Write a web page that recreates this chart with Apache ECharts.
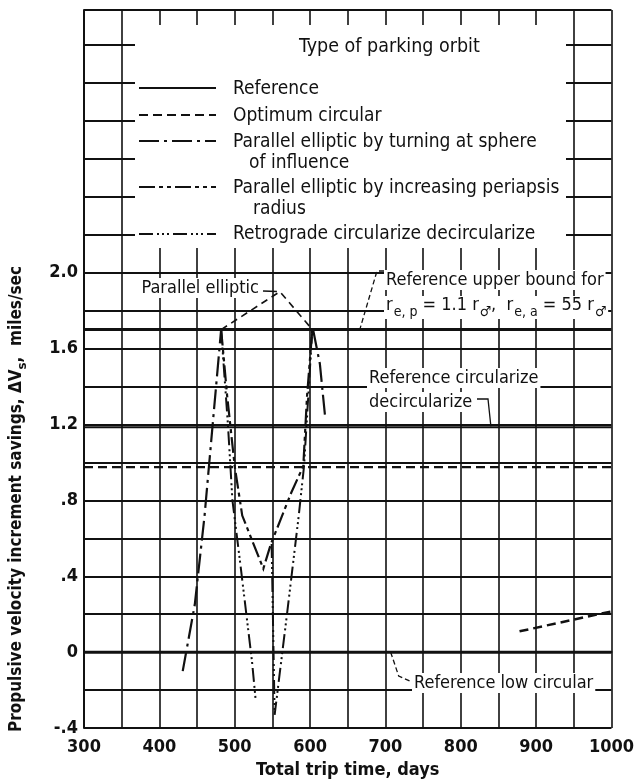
<!DOCTYPE html>
<html>
<head>
<meta charset="utf-8">
<script src="https://cdn.jsdelivr.net/npm/echarts@6/dist/echarts.min.js"></script>
<style>
  html, body { margin: 0; padding: 0; background: #fff; }
  #chart { width: 637px; height: 784px; }
</style>
</head>
<body>
<div id="chart"></div>
<script>
// Propulsive velocity increment savings vs. total trip time, by parking orbit type.

// Axis ticks
const xLabelDays = [300, 400, 500, 600, 700, 800, 900, 1000];
const yLabelValues = [-0.4, 0, 0.4, 0.8, 1.2, 1.6, 2.0];
const yLabelTexts = ['-.4', '0', '.4', '.8', '1.2', '1.6', '2.0'];

// Reference levels (days, miles/sec)
const refUpperBound = [[300, 1.70], [1000, 1.70]];
const refCircDecirc = [[300, 1.185], [1000, 1.185]];
const refLowCircular = [[300, 0], [1000, 0]];

// Optimum circular parking orbit
const optimumCircular = [[300, 0.975], [1000, 0.975]];
const optimumCircularLate = [[878, 0.11], [1000, 0.215]];

// Parallel elliptic envelope
const parallelEnvelope = [[482, 1.70], [560, 1.90], [603, 1.70]];

// Parallel elliptic by turning at sphere of influence
const turningSoi = [[431, -0.10], [447, 0.25], [460, 0.72], [482, 1.70], null,
                    [604, 1.70], [613, 1.52], [620, 1.24]];

// Parallel elliptic by increasing periapsis radius
const increasingPeriapsis = [[482, 1.70], [490, 1.35], [500, 0.98], [510, 0.72], [538, 0.44],
                             [548, 0.57], [561, 0.70], [575, 0.84], [591, 0.98], [596, 1.35], [603, 1.70]];

// Retrograde circularize decircularize
const retrograde = [[482, 1.70], [491, 1.20], [497, 0.80], [507, 0.48], [523, -0.05], [528, -0.26], null,
                    [549, 0.57], [553, -0.33], [570, 0.22], [585, 0.72], [592, 0.98], [603, 1.70]];

const INK = '#111';
const FONT = '"DejaVu Sans Condensed", "Liberation Sans Narrow", "Noto Sans", sans-serif';

const DASH_OPT = [9, 5];
const DASH_TURN = [20, 5, 3, 5];
const DASH_PERI = [16, 4, 4, 4, 4, 4];
const DASH_RETRO = [14, 4, 2, 3, 2, 3, 2, 4];
const DASH_ENV = [7, 5];

const chart = echarts.init(document.getElementById('chart'), null, { renderer: 'canvas' });

function lineSeries(name, data, width, dash, z) {
  return {
    name, type: 'line', data, showSymbol: false, symbol: 'none',
    connectNulls: false, animation: false, z: z || 3,
    lineStyle: { color: INK, width, type: dash || 'solid', cap: 'butt', join: 'miter' }
  };
}

const option = {
  animation: false,
  backgroundColor: '#fff',
  grid: { left: 84, right: 18, top: 10, bottom: 55, containLabel: false },
  xAxis: {
    type: 'value', min: 300, max: 1000, interval: 50,
    axisLine: { show: true, lineStyle: { color: INK, width: 2 } },
    axisTick: { show: false },
    splitLine: { show: true, lineStyle: { color: INK, width: 1.6 } },
    axisLabel: {
      margin: 10, color: INK, fontFamily: FONT, fontWeight: 'bold', fontSize: 18,
      formatter: v => (xLabelDays.indexOf(Math.round(v)) >= 0 ? String(Math.round(v)) : '')
    },
    name: 'Total trip time, days', nameLocation: 'middle', nameGap: 31,
    nameTextStyle: { color: INK, fontFamily: FONT, fontWeight: 'bold', fontSize: 18 }
  },
  yAxis: {
    type: 'value', min: -0.4, max: 3.384, interval: 0.2,
    axisLine: { show: true, lineStyle: { color: INK, width: 2 } },
    axisTick: { show: false },
    splitLine: { show: true, lineStyle: { color: INK, width: 2 } },
    axisLabel: {
      margin: 6, color: INK, fontFamily: FONT, fontWeight: 'bold', fontSize: 18,
      formatter: v => {
        const r = Math.round(v * 10) / 10;
        const i = yLabelValues.findIndex(t => Math.abs(t - r) < 1e-6);
        return i >= 0 && Math.abs(v - r) < 1e-6 ? yLabelTexts[i] : '';
      }
    }
  },
  series: [
    lineSeries('Reference upper bound', refUpperBound, 3, 'solid', 4),
    lineSeries('Reference circularize decircularize', refCircDecirc, 2, 'solid', 4),
    lineSeries('Reference low circular', refLowCircular, 3, 'solid', 4),
    lineSeries('Optimum circular', optimumCircular, 2.2, DASH_OPT),
    lineSeries('Optimum circular late', optimumCircularLate, 2.5, DASH_OPT),
    lineSeries('Parallel elliptic', parallelEnvelope, 1.6, DASH_ENV),
    lineSeries('Parallel elliptic by turning at sphere of influence', turningSoi, 2.2, DASH_TURN),
    lineSeries('Parallel elliptic by increasing periapsis radius', increasingPeriapsis, 2.2, DASH_PERI),
    lineSeries('Retrograde circularize decircularize', retrograde, 2, DASH_RETRO)
  ]
};
chart.setOption(option);

const px = (d, v) => chart.convertToPixel({ gridIndex: 0 }, [d, v]);

function txt(text, x, y, size, align, bg) {
  const style = {
    text, fill: INK, font: `normal ${size || 18}px ${FONT}`,
    align: align || 'left', verticalAlign: 'middle'
  };
  if (bg) { style.backgroundColor = '#fff'; style.padding = [1, 2, 1, 2]; }
  return { type: 'text', x, y, z: 30, style };
}
function seg(points, width, dash) {
  return {
    type: 'polyline', z: 31, shape: { points },
    style: { stroke: INK, fill: null, lineWidth: width || 1.5, lineDash: dash || null }
  };
}

const sx1 = 139, sx2 = 216, tx = 233;
const peak = px(560, 1.90);
const upperHit = px(666, 1.70);
const circHit = px(840, 1.185);
const lowHit = px(707, 0);

const graphics = [
  // blank panel for the orbit-type key
  { type: 'rect', z: 20, shape: { x: 135, y: 25, width: 431, height: 223 }, style: { fill: '#fff' } },
  txt('Type of parking orbit', 299, 47, 19.5),
  seg([[sx1, 88], [sx2, 88]], 2),
  txt('Reference', tx, 89, 19),
  seg([[sx1, 115], [sx2, 115]], 2, DASH_OPT),
  txt('Optimum circular', tx, 116, 19),
  seg([[sx1, 141], [sx2, 141]], 2, DASH_TURN),
  txt('Parallel elliptic by turning at sphere', tx, 142, 19),
  txt('of influence', 249, 163, 19),
  seg([[sx1, 187], [sx2, 187]], 2, DASH_PERI),
  txt('Parallel elliptic by increasing periapsis', tx, 188, 19),
  txt('radius', 253, 209, 19),
  seg([[sx1, 234], [sx2, 234]], 2, DASH_RETRO),
  txt('Retrograde circularize decircularize', tx, 234, 19),

  // annotations
  txt('Parallel elliptic', 261, 288, 18, 'right', true),
  seg([[263, 291], [peak[0] - 3, peak[1]]], 1.5),
  seg([[384, 271], [377, 271], [upperHit[0], upperHit[1]]], 1.3, [5, 3]),
  txt('Reference upper bound for', 384, 280, 18, 'left', true),
  {
    type: 'text', x: 384, y: 296, z: 30,
    style: {
      text: '{n|r}{s|e, p}{n| = 1.1 r}{s|♂}{n|,  r}{s|e, a}{n| = 55 r}{s|♂}',
      fill: INK, align: 'left', verticalAlign: 'top',
      backgroundColor: '#fff', padding: [0, 2, 0, 2],
      rich: {
        n: { font: `normal 18px ${FONT}`, fill: INK, verticalAlign: 'top' },
        s: { font: `normal 14px ${FONT}`, fill: INK, verticalAlign: 'top', padding: [9, 0, 0, 1] }
      }
    }
  },
  txt('Reference circularize', 367, 378, 18, 'left', true),
  txt('decircularize', 367, 402, 18, 'left', true),
  seg([[477, 399], [488, 399], [circHit[0], circHit[1] - 1]], 1.3),
  seg([[lowHit[0], lowHit[1]], [lowHit[0] + 8, 676], [412, 682]], 1.3, [5, 3]),
  txt('Reference low circular', 412, 683, 18, 'left', true),

  // vertical axis title
  {
    type: 'text', x: 19, y: 499, z: 30, rotation: Math.PI / 2,
    style: {
      text: '{a|Propulsive velocity increment savings, ΔV}{b|s}{a|,  miles/sec}',
      align: 'center', verticalAlign: 'middle',
      rich: {
        a: { font: `bold 17px ${FONT}`, fill: INK, verticalAlign: 'top' },
        b: { font: `bold 13px ${FONT}`, fill: INK, verticalAlign: 'top', padding: [8, 0, 0, 0] }
      }
    }
  }
];

chart.setOption({ graphic: graphics });
</script>
</body>
</html>
